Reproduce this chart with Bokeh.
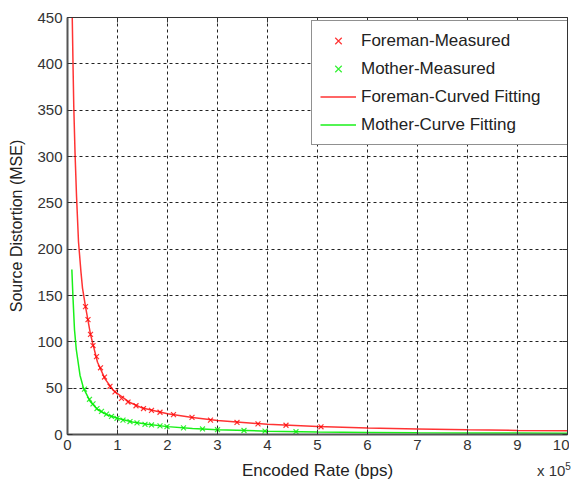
from bokeh.plotting import figure
from bokeh.models import (LinearAxis, Legend, LegendItem, FixedTicker, Range1d,
                          CustomJSTickFormatter, Div)
from bokeh.layouts import column
from bokeh.embed import file_html
from bokeh.resources import INLINE

# Encoded rate in units of 1e5 bps
foreman_meas_rate = [0.36, 0.41, 0.46, 0.51, 0.58, 0.66, 0.74, 0.85, 0.95, 1.08, 1.21, 1.37,
                     1.52, 1.68, 1.85, 2.12, 2.49, 2.86, 3.39, 3.81, 4.37, 5.07]
foreman_meas_mse = [138, 124, 108, 96, 84, 72, 62, 52, 46, 39, 35, 31,
                    28, 26, 24, 21.4, 18.5, 15.5, 13, 11.5, 10, 8.3]

mother_meas_rate = [0.34, 0.44, 0.51, 0.59, 0.68, 0.78, 0.88, 0.99, 1.11, 1.25, 1.39, 1.55,
                    1.68, 1.85, 1.99, 2.32, 2.7, 3.0, 3.53, 3.95, 4.57]
mother_meas_mse = [49, 38, 33, 28, 25, 22, 19.5, 17.5, 15.5, 14, 12.5, 11,
                   10.3, 9.3, 8.6, 7.2, 6.0, 5.2, 4.3, 3.7, 3.0]

foreman_fit_rate = [0.095, 0.11, 0.125, 0.15, 0.18, 0.22, 0.27, 0.30, 0.36, 0.46, 0.6, 0.75,
                    0.91, 1.0, 1.25, 1.5, 2.0, 2.5, 3.0, 4.0, 5.0, 6.0, 7.0, 8.0, 9.0, 10.0]
foreman_fit_mse = [450, 400, 355, 305, 258, 208, 175, 158, 138, 108, 78, 60,
                   48, 44, 34.5, 28.5, 22.5, 18.3, 15, 11, 8.5, 7, 6, 5, 4.4, 4]

mother_fit_rate = [0.087, 0.107, 0.14, 0.175, 0.25, 0.32, 0.45, 0.6, 0.8, 1.0, 1.3, 1.6,
                   2.0, 2.5, 3.0, 4.0, 5.0, 6.0, 7.0, 8.0, 9.0, 10.0]
mother_fit_mse = [178, 151, 113, 92, 64, 50, 36, 27, 21, 17.5, 13.5, 11,
                  8.5, 6.5, 5.1, 3.6, 2.7, 2.2, 1.9, 1.7, 1.5, 1.4]

x_ticks = [0, 1, 2, 3, 4, 5, 6, 7, 8, 9, 10]
y_ticks = [0, 50, 100, 150, 200, 250, 300, 350, 400, 450]

FONT = "Liberation Sans"
RED = "#ff0000"
GREEN = "#00ee00"

p = figure(width=569, height=482, output_backend="svg", toolbar_location=None,
           x_range=Range1d(0, 10), y_range=Range1d(0, 450),
           min_border_left=67, min_border_right=2, min_border_top=17, min_border_bottom=48,
           background_fill_color="white", border_fill_color="white")

p.outline_line_color = "#333333"
p.outline_line_width = 1

for ax in (p.xaxis[0], p.yaxis[0]):
    ax.major_tick_in = 5
    ax.major_tick_out = 0
    ax.minor_tick_line_color = None
    ax.axis_line_color = "#555555"
    ax.axis_line_width = 2
    ax.major_tick_line_color = "#333333"
    ax.major_label_text_font = FONT
    ax.major_label_text_font_size = "15px"
    ax.major_label_text_color = "#333333"
    ax.axis_label_text_font = FONT
    ax.axis_label_text_font_style = "normal"
    ax.axis_label_text_color = "#222222"

p.xaxis.ticker = FixedTicker(ticks=x_ticks)
p.yaxis.ticker = FixedTicker(ticks=y_ticks)
p.xaxis.axis_label = "Encoded Rate (bps)"
p.yaxis.axis_label = "Source Distortion (MSE)"
p.xaxis.axis_label_text_font_size = "17px"
p.yaxis.axis_label_text_font_size = "16px"
p.xaxis.major_label_standoff = 5
p.yaxis.major_label_standoff = 5
p.xaxis.axis_label_standoff = 8
p.yaxis.axis_label_standoff = 9

blank = CustomJSTickFormatter(code="return ''")
for loc in ("above", "right"):
    ax = LinearAxis(ticker=FixedTicker(ticks=x_ticks if loc == "above" else y_ticks),
                    formatter=blank, major_label_text_font_size="1px",
                    major_tick_in=5, major_tick_out=0,
                    minor_tick_line_color=None, axis_line_color=None,
                    major_tick_line_color="#333333", major_label_standoff=0)
    p.add_layout(ax, loc)

p.xgrid.ticker = FixedTicker(ticks=x_ticks)
p.ygrid.ticker = FixedTicker(ticks=y_ticks)
p.grid.grid_line_color = "#222222"
p.grid.grid_line_dash = "3 3"
p.grid.grid_line_width = 1

r1 = p.scatter(foreman_meas_rate, foreman_meas_mse, marker="x", size=7,
               line_color=RED, line_width=1.2, line_alpha=0.8)
r2 = p.scatter(mother_meas_rate, mother_meas_mse, marker="x", size=7,
               line_color=GREEN, line_width=1.2, line_alpha=0.8)
r3 = p.line(foreman_fit_rate, foreman_fit_mse, line_color=RED, line_width=1.5, line_alpha=0.8)
r4 = p.line(mother_fit_rate, mother_fit_mse, line_color=GREEN, line_width=1.5, line_alpha=0.9)

legend = Legend(items=[LegendItem(label="Foreman-Measured", renderers=[r1]),
                       LegendItem(label="Mother-Measured", renderers=[r2]),
                       LegendItem(label="Foreman-Curved Fitting", renderers=[r3]),
                       LegendItem(label="Mother-Curve Fitting", renderers=[r4])],
                location=(244, 289), label_text_font=FONT, label_text_font_size="17px",
                label_text_color="#222222", glyph_width=36, glyph_height=23,
                label_height=23, label_standoff=5, spacing=5, padding=8, margin=0,
                label_width=198, border_line_color="#222222", border_line_width=1,
                background_fill_color="white", background_fill_alpha=1)
p.add_layout(legend, "center")

exponent = Div(text="x 10<sup style='font-size:10px'>5</sup>", width=40, height=20,
               styles={"position": "absolute", "left": "532px", "top": "455px",
                       "font-family": FONT, "font-size": "15px", "color": "#333333",
                       "white-space": "nowrap", "z-index": "10"})

layout = column(p, exponent)
open("out.html", "w").write(file_html(layout, INLINE))
